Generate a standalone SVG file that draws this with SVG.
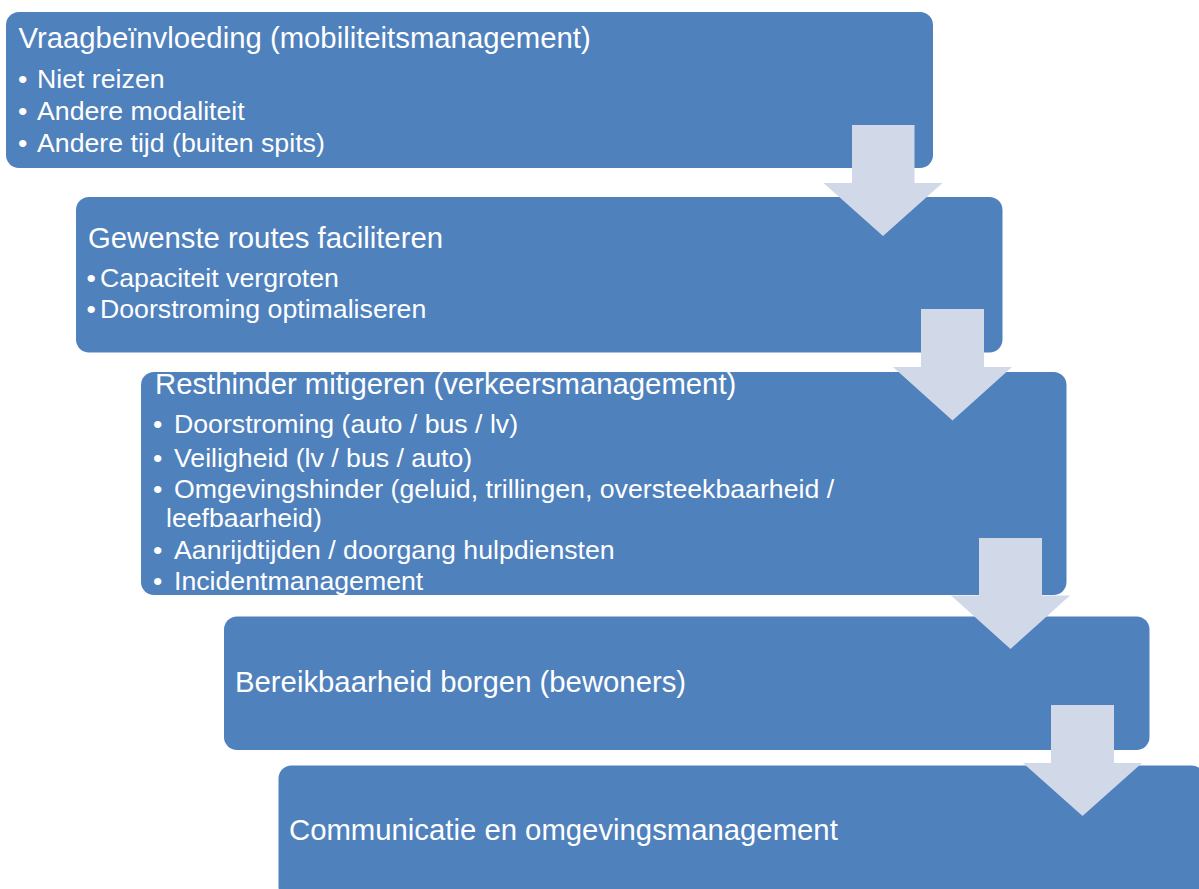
<svg xmlns="http://www.w3.org/2000/svg" width="1199" height="889" viewBox="0 0 1199 889">
<style>
.box{fill:#4F81BD;}
.arrow{fill:#D1D8E7;}
text{font-family:"Liberation Sans",Arial,sans-serif;fill:#FFFFFF;}
.t{font-size:29.3px;}
.b{font-size:26.7px;}
</style>
<rect width="1199" height="889" fill="#FFFFFF"/>
<g id="node1">
<rect class="box" x="6" y="12" width="927" height="156" rx="13"/>
<text class="t" x="18.5" y="47.5">Vraagbeïnvloeding (mobiliteitsmanagement)</text>
<text class="b" x="18" y="88.3">•</text><text class="b" x="37" y="88.3">Niet reizen</text>
<text class="b" x="18" y="120">•</text><text class="b" x="37" y="120">Andere modaliteit</text>
<text class="b" x="18" y="151.7">•</text><text class="b" x="37" y="151.7">Andere tijd (buiten spits)</text>
</g>
<g id="node2">
<rect class="box" x="76" y="197" width="926.5" height="155.5" rx="13"/>
<text class="t" x="88" y="248">Gewenste routes faciliteren</text>
<text class="b" x="86.5" y="286.7">•</text><text class="b" x="100" y="286.7">Capaciteit vergroten</text>
<text class="b" x="86.5" y="318.3">•</text><text class="b" x="100" y="318.3">Doorstroming optimaliseren</text>
</g>
<g id="node3">
<rect class="box" x="141" y="372" width="925.5" height="223" rx="13"/>
<text class="t" x="155" y="394">Resthinder mitigeren (verkeersmanagement)</text>
<text class="b" x="153" y="433.3">•</text><text class="b" x="174" y="433.3">Doorstroming (auto / bus / lv)</text>
<text class="b" x="153" y="466.7">•</text><text class="b" x="174" y="466.7">Veiligheid (lv / bus / auto)</text>
<text class="b" x="153" y="498.3">•</text><text class="b" x="174" y="498.3">Omgevingshinder (geluid, trillingen, oversteekbaarheid /</text>
<text class="b" x="166" y="526.7">leefbaarheid)</text>
<text class="b" x="153" y="559.3">•</text><text class="b" x="174" y="559.3">Aanrijdtijden / doorgang hulpdiensten</text>
<text class="b" x="153" y="590">•</text><text class="b" x="174" y="590">Incidentmanagement</text>
</g>
<g id="node4">
<rect class="box" x="224" y="616.5" width="925.5" height="133.5" rx="13"/>
<text class="t" x="235" y="692">Bereikbaarheid borgen (bewoners)</text>
</g>
<g id="node5">
<rect class="box" x="278.5" y="765.5" width="926" height="134" rx="13"/>
<text class="t" x="289" y="840">Communicatie en omgevingsmanagement</text>
</g>
<g id="connectors">
<polygon class="arrow" points="852,125 914.5,125 914.5,183 942.5,183 883,236 823.5,183 852,183"/>
<polygon class="arrow" points="921,309 984,309 984,367 1012,367 952.5,420.5 893,367 921,367"/>
<polygon class="arrow" points="979,538 1042,538 1042,595.5 1070,595.5 1010.5,649 951,595.5 979,595.5"/>
<polygon class="arrow" points="1051,705 1114,705 1114,763 1142,763 1082.5,816 1023,763 1051,763"/>
</g>
</svg>
